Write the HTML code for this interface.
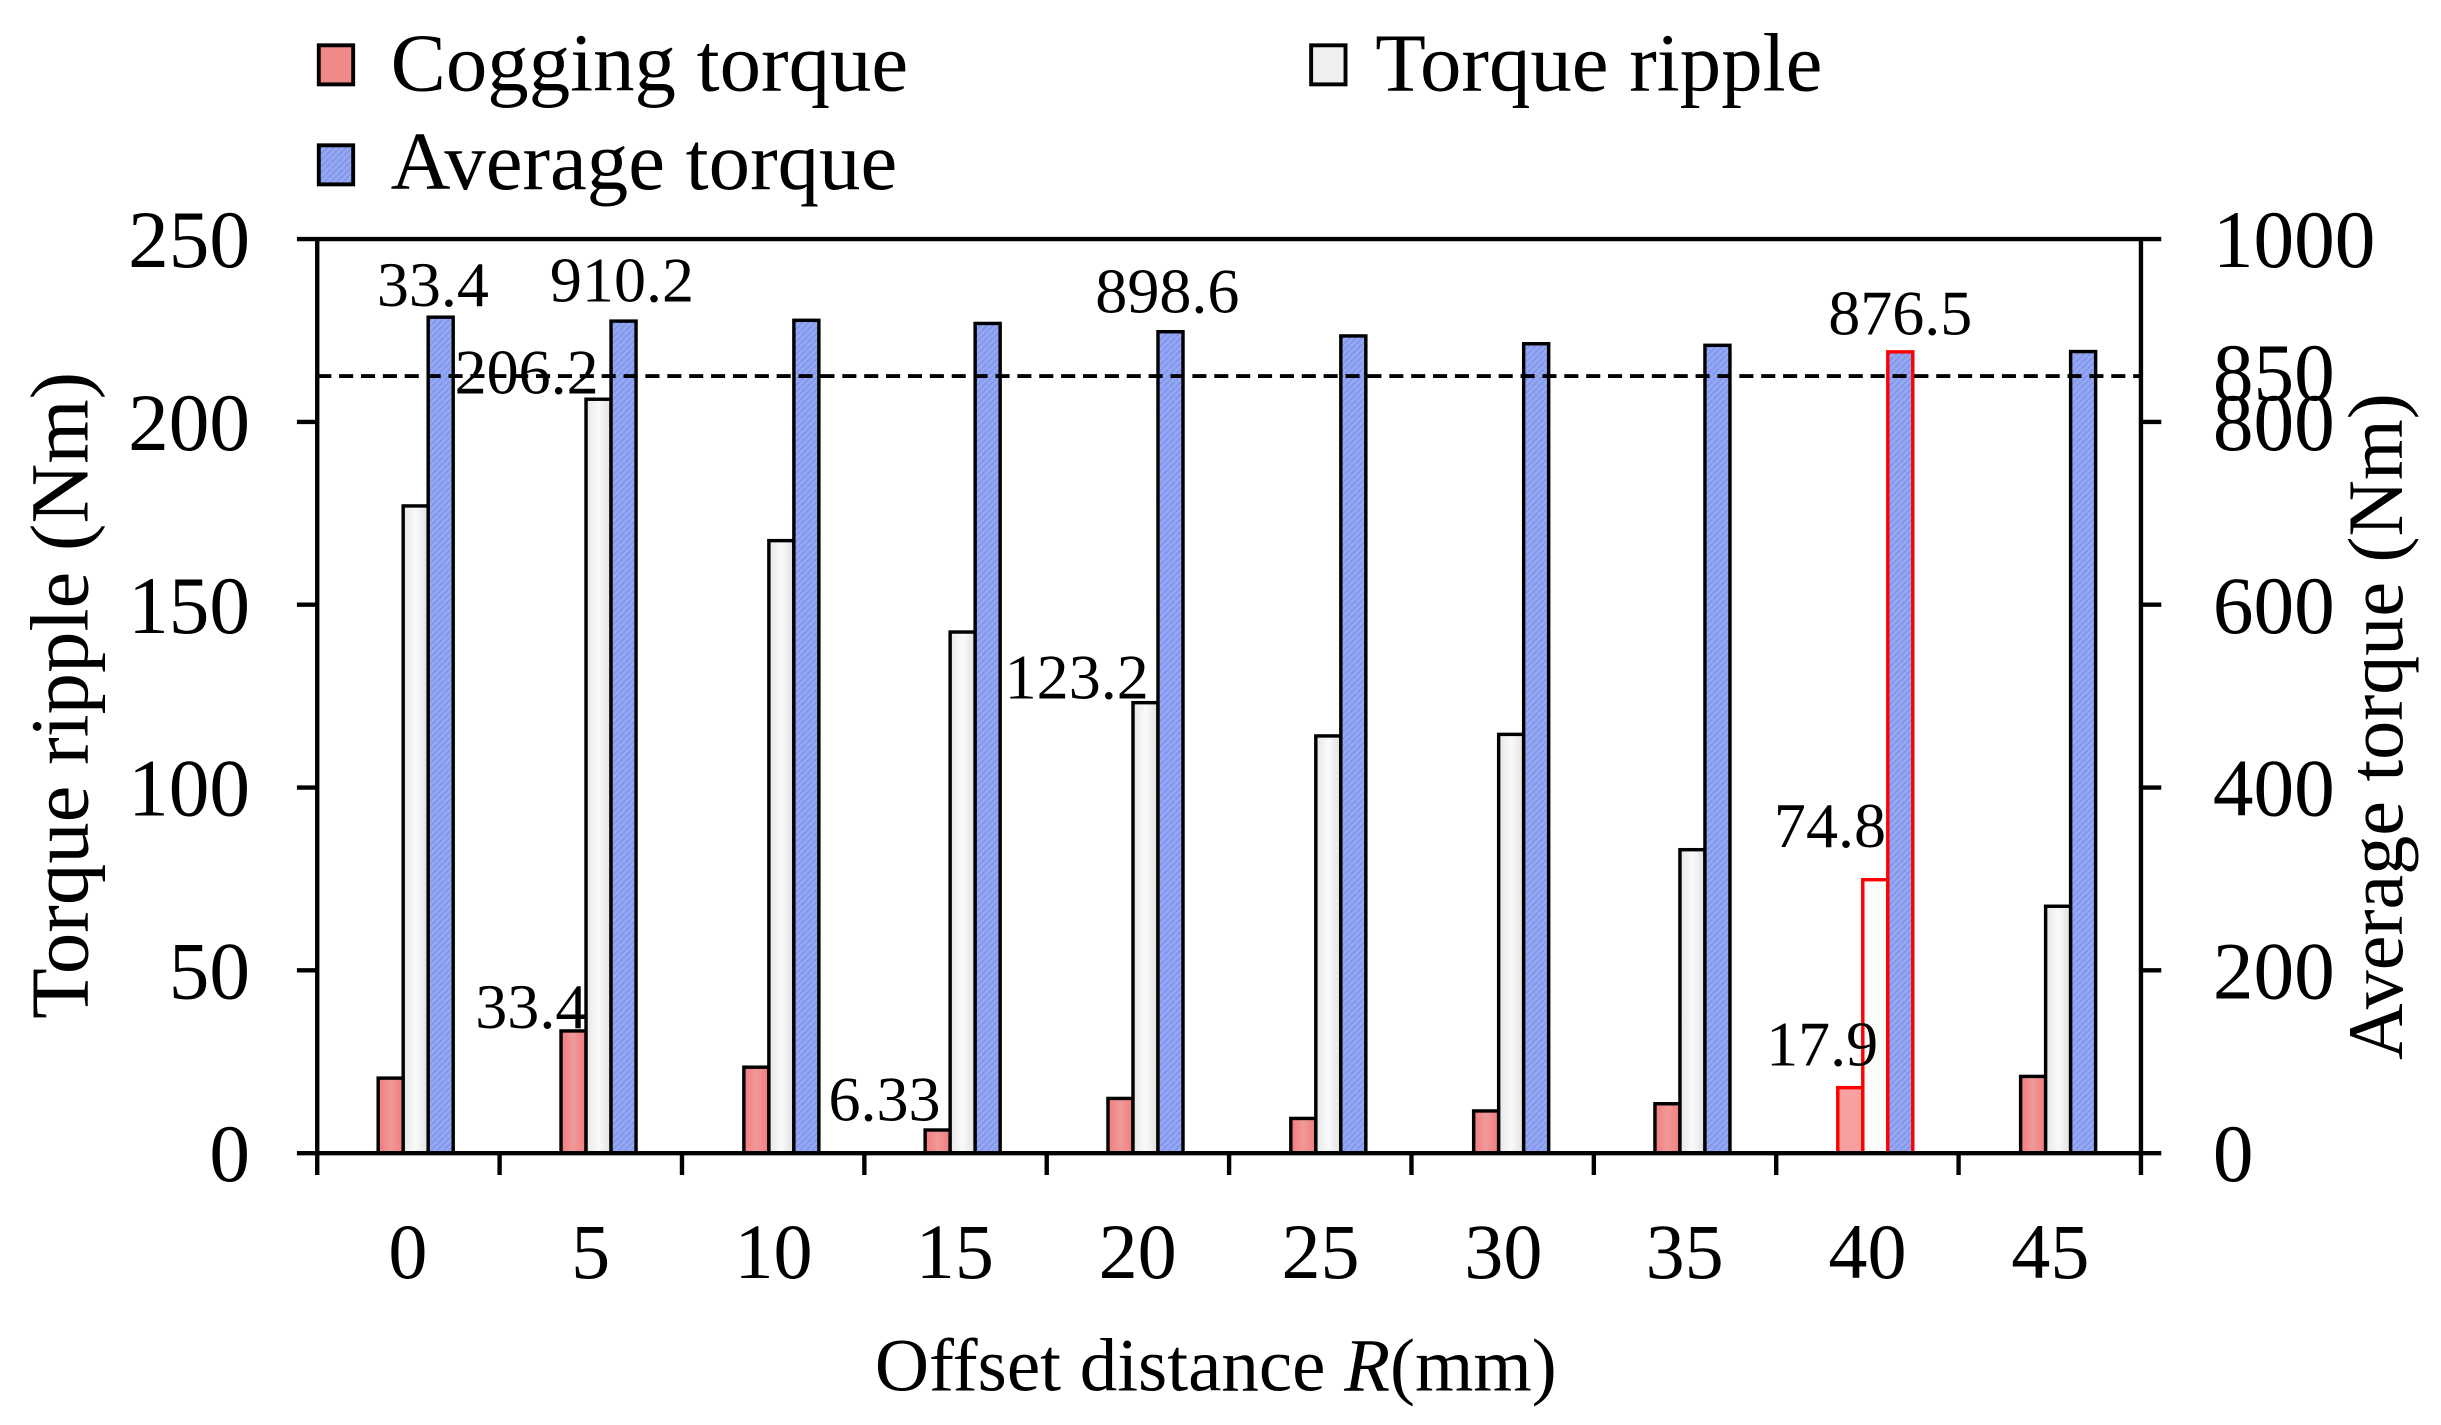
<!DOCTYPE html>
<html><head><meta charset="utf-8"><style>
html,body{margin:0;padding:0;background:#fff;}
svg{display:block;}
text{font-family:"Liberation Serif",serif;fill:#000;}
</style></head><body>
<svg width="2441" height="1425" viewBox="0 0 1562 912" preserveAspectRatio="none" xmlns="http://www.w3.org/2000/svg">
<defs>
<pattern id="hatch" width="4" height="4" patternUnits="userSpaceOnUse">
<rect width="4" height="4" fill="#95a8f4"/>
<path d="M0 4L4 0" stroke="#7e93ea" stroke-width="1"/>
</pattern>
<linearGradient id="gr" x1="0" x2="1"><stop offset="0" stop-color="#f57a7a"/><stop offset="0.5" stop-color="#ef9a9a"/><stop offset="1" stop-color="#f57a7a"/></linearGradient>
<linearGradient id="gg" x1="0" x2="1"><stop offset="0" stop-color="#e6e6e6"/><stop offset="0.5" stop-color="#fafafa"/><stop offset="1" stop-color="#e0e0e0"/></linearGradient>
</defs>

<!-- legend -->
<rect x="204" y="29" width="22" height="25" fill="#f08a8a" stroke="#000" stroke-width="2.5"/>
<text x="250" y="58" font-size="53">Cogging torque</text>
<rect x="839" y="29" width="22" height="25" fill="#efefef" stroke="#000" stroke-width="2.5"/>
<text x="880" y="58" font-size="53">Torque ripple</text>
<rect x="204" y="93" width="22" height="25" fill="url(#hatch)" stroke="#000" stroke-width="2.5"/>
<text x="250" y="121" font-size="53">Average torque</text>

<g id="bars" stroke-width="2.2">
<rect x="242" y="690" width="16" height="48" fill="url(#gr)" stroke="#000"/>
<rect x="258" y="323.8" width="16" height="414.2" fill="url(#gg)" stroke="#000"/>
<rect x="274" y="203" width="16" height="535" fill="url(#hatch)" stroke="#000"/>
<rect x="359" y="659.8" width="16" height="78.2" fill="url(#gr)" stroke="#000"/>
<rect x="375" y="255.5" width="16" height="482.5" fill="url(#gg)" stroke="#000"/>
<rect x="391" y="205.5" width="16" height="532.5" fill="url(#hatch)" stroke="#000"/>
<rect x="476" y="683" width="16" height="55" fill="url(#gr)" stroke="#000"/>
<rect x="492" y="346" width="16" height="392" fill="url(#gg)" stroke="#000"/>
<rect x="508" y="205" width="16" height="533" fill="url(#hatch)" stroke="#000"/>
<rect x="592" y="723.2" width="16" height="14.8" fill="url(#gr)" stroke="#000"/>
<rect x="608" y="404.5" width="16" height="333.5" fill="url(#gg)" stroke="#000"/>
<rect x="624" y="207" width="16" height="531" fill="url(#hatch)" stroke="#000"/>
<rect x="709" y="703" width="16" height="35" fill="url(#gr)" stroke="#000"/>
<rect x="725" y="449.7" width="16" height="288.3" fill="url(#gg)" stroke="#000"/>
<rect x="741" y="212.3" width="16" height="525.7" fill="url(#hatch)" stroke="#000"/>
<rect x="826" y="715.8" width="16" height="22.2" fill="url(#gr)" stroke="#000"/>
<rect x="842" y="471" width="16" height="267" fill="url(#gg)" stroke="#000"/>
<rect x="858" y="215" width="16" height="523" fill="url(#hatch)" stroke="#000"/>
<rect x="943" y="711" width="16" height="27" fill="url(#gr)" stroke="#000"/>
<rect x="959" y="470" width="16" height="268" fill="url(#gg)" stroke="#000"/>
<rect x="975" y="220" width="16" height="518" fill="url(#hatch)" stroke="#000"/>
<rect x="1059" y="706.4" width="16" height="31.6" fill="url(#gr)" stroke="#000"/>
<rect x="1075" y="543.8" width="16" height="194.2" fill="url(#gg)" stroke="#000"/>
<rect x="1091" y="221" width="16" height="517" fill="url(#hatch)" stroke="#000"/>
<rect x="1176" y="696.1" width="16" height="41.9" fill="#f7a0a0" stroke="#f00"/>
<rect x="1192" y="563" width="16" height="175" fill="#fbfbfb" stroke="#f00"/>
<rect x="1208" y="225.2" width="16" height="512.8" fill="url(#hatch)" stroke="#f00"/>
<rect x="1293" y="688.9" width="16" height="49.1" fill="url(#gr)" stroke="#000"/>
<rect x="1309" y="580" width="16" height="158" fill="url(#gg)" stroke="#000"/>
<rect x="1325" y="225" width="16" height="513" fill="url(#hatch)" stroke="#000"/>
</g>

<line x1="203" y1="240.7" x2="1370" y2="240.7" stroke="#000" stroke-width="2.5" stroke-dasharray="9,5"/>

<g stroke="#000" stroke-width="2.8" fill="none">
<line x1="190" y1="153" x2="1383" y2="153"/>
<line x1="203" y1="153" x2="203" y2="752"/>
<line x1="1370" y1="153" x2="1370" y2="752"/>
<line x1="190" y1="738" x2="1383" y2="738"/>
<line x1="190" y1="270" x2="203" y2="270"/>
<line x1="190" y1="387" x2="203" y2="387"/>
<line x1="190" y1="504" x2="203" y2="504"/>
<line x1="190" y1="621" x2="203" y2="621"/>
<line x1="1370" y1="270" x2="1383" y2="270"/>
<line x1="1370" y1="387" x2="1383" y2="387"/>
<line x1="1370" y1="504" x2="1383" y2="504"/>
<line x1="1370" y1="621" x2="1383" y2="621"/>
<line x1="319.7" y1="738" x2="319.7" y2="752"/>
<line x1="436.4" y1="738" x2="436.4" y2="752"/>
<line x1="553.1" y1="738" x2="553.1" y2="752"/>
<line x1="669.8" y1="738" x2="669.8" y2="752"/>
<line x1="786.5" y1="738" x2="786.5" y2="752"/>
<line x1="903.2" y1="738" x2="903.2" y2="752"/>
<line x1="1019.9" y1="738" x2="1019.9" y2="752"/>
<line x1="1136.6" y1="738" x2="1136.6" y2="752"/>
<line x1="1253.3" y1="738" x2="1253.3" y2="752"/>
</g>

<g font-size="52" text-anchor="end">
<text x="160" y="171">250</text>
<text x="160" y="288">200</text>
<text x="160" y="405">150</text>
<text x="160" y="522">100</text>
<text x="160" y="639">50</text>
<text x="160" y="756">0</text>
</g>
<g font-size="52">
<text x="1416" y="171">1000</text>
<text x="1416" y="256">850</text>
<text x="1416" y="288">800</text>
<text x="1416" y="405">600</text>
<text x="1416" y="522">400</text>
<text x="1416" y="639">200</text>
<text x="1416" y="756">0</text>
</g>
<g font-size="50" text-anchor="middle">
<text x="261" y="818">0</text>
<text x="378" y="818">5</text>
<text x="495" y="818">10</text>
<text x="611" y="818">15</text>
<text x="728" y="818">20</text>
<text x="845" y="818">25</text>
<text x="962" y="818">30</text>
<text x="1078" y="818">35</text>
<text x="1195" y="818">40</text>
<text x="1312" y="818">45</text>
</g>
<text x="778" y="890" font-size="48" text-anchor="middle">Offset distance <tspan font-style="italic">R</tspan>(mm)</text>
<text transform="translate(56,445) rotate(-90)" font-size="53" text-anchor="middle">Torque ripple (Nm)</text>
<text transform="translate(1537,465) rotate(-90)" font-size="50" text-anchor="middle">Average torque (Nm)</text>

<g font-size="41" text-anchor="middle">
<text x="277" y="196">33.4</text>
<text x="398" y="193">910.2</text>
<text x="337" y="252">206.2</text>
<text x="747" y="200">898.6</text>
<text x="1216" y="214">876.5</text>
<text x="689" y="447">123.2</text>
<text x="566" y="717">6.33</text>
<text x="340" y="658">33.4</text>
<text x="1171" y="542">74.8</text>
<text x="1166" y="682">17.9</text>
</g>
</svg>
</body></html>
